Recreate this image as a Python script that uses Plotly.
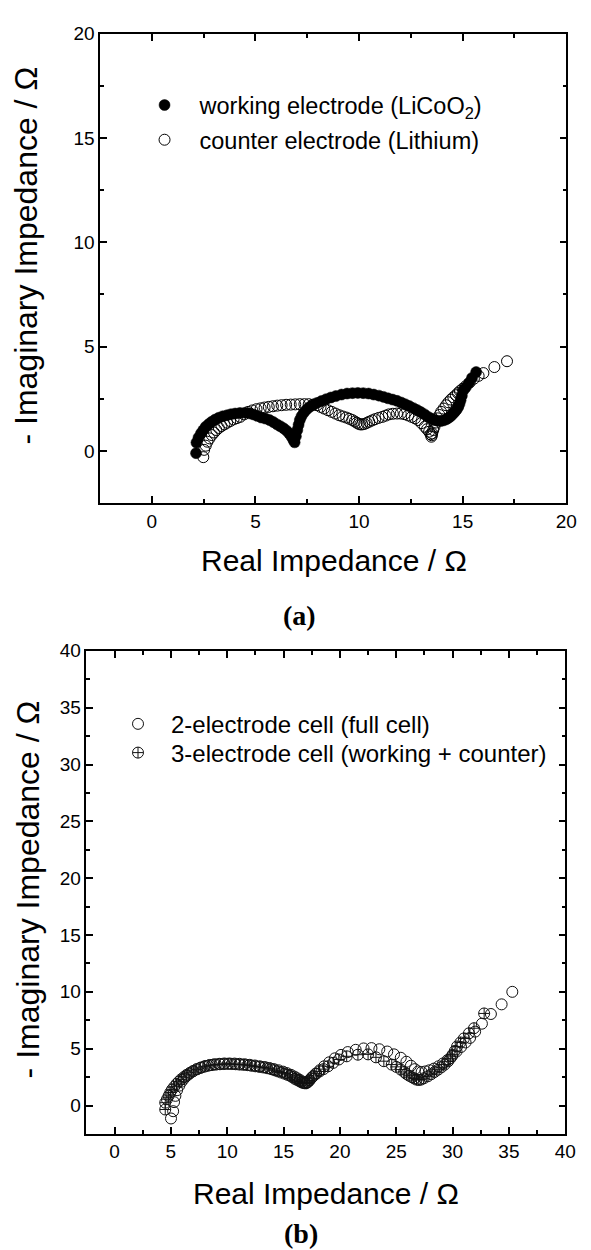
import plotly.graph_objects as go

W, H = 591, 1250

# ---------------- data : panel (a) ----------------
we_x = [2.13, 2.15, 2.25, 2.37, 2.48, 2.6, 2.75, 2.89, 3.05, 3.23,
        3.42, 3.63, 3.82, 4.02, 4.25, 4.5, 4.7, 4.89, 5.08, 5.28,
        5.48, 5.68, 5.86, 6.04, 6.2, 6.36, 6.5, 6.62, 6.74, 6.83,
        6.89, 6.95, 7.02, 7.08, 7.14, 7.22, 7.33, 7.46, 7.62, 7.78,
        7.97, 8.18, 8.41, 8.64, 8.88, 9.15, 9.42, 9.68, 9.94, 10.2,
        10.46, 10.71, 10.96, 11.18, 11.4, 11.62, 11.83, 12.03, 12.22, 12.42,
        12.62, 12.8, 12.98, 13.16, 13.33, 13.5, 13.64, 13.78, 13.93, 14.07,
        14.2, 14.32, 14.43, 14.53, 14.62, 14.71, 14.79, 14.85, 14.9, 14.96,
        15.03, 15.15, 15.3, 15.45, 15.65]
we_y = [-0.11, 0.4, 0.64, 0.84, 1.0, 1.16, 1.29, 1.4, 1.5, 1.59,
        1.66, 1.71, 1.76, 1.79, 1.82, 1.83, 1.8, 1.75, 1.68, 1.6,
        1.55, 1.48, 1.38, 1.27, 1.18, 1.08, 0.97, 0.84, 0.68, 0.52,
        0.41, 0.7, 1.0, 1.25, 1.48, 1.66, 1.83, 1.98, 2.11, 2.21,
        2.3, 2.39, 2.48, 2.56, 2.63, 2.7, 2.75, 2.77, 2.78, 2.77,
        2.75, 2.7, 2.65, 2.59, 2.52, 2.46, 2.4, 2.32, 2.24, 2.15,
        2.05, 1.96, 1.86, 1.75, 1.63, 1.55, 1.48, 1.45, 1.43, 1.46,
        1.51, 1.58, 1.67, 1.77, 1.87, 1.98, 2.11, 2.27, 2.43, 2.65,
        2.9, 3.05, 3.25, 3.5, 3.78]

ce_x = [2.48, 2.52, 2.6, 2.68, 2.78, 2.89, 3.0, 3.11, 3.23, 3.36,
        3.5, 3.63, 3.78, 3.94, 4.1, 4.26, 4.45, 4.65, 4.85, 5.05,
        5.25, 5.44, 5.64, 5.84, 6.05, 6.26, 6.48, 6.7, 6.92, 7.14,
        7.36, 7.57, 7.78, 7.97, 8.14, 8.31, 8.5, 8.68, 8.86, 9.04,
        9.21, 9.38, 9.53, 9.67, 9.79, 9.89, 9.98, 10.06, 10.15, 10.25,
        10.37, 10.49, 10.63, 10.77, 10.94, 11.12, 11.28, 11.44, 11.63, 11.83,
        12.01, 12.19, 12.37, 12.54, 12.7, 12.85, 13.01, 13.17, 13.28, 13.38,
        13.45, 13.49, 13.51, 13.53, 13.58, 13.64, 13.72, 13.8, 13.88, 13.96,
        14.08, 14.2, 14.31, 14.43, 14.55, 14.67, 14.77, 14.87, 15.0, 15.14,
        15.34, 15.54, 15.77, 16.0, 16.53, 17.14]
ce_y = [-0.3, 0.05, 0.25, 0.44, 0.6, 0.76, 0.88, 1.0, 1.1, 1.19,
        1.27, 1.35, 1.43, 1.51, 1.57, 1.63, 1.75, 1.87, 1.94, 2.0,
        2.04, 2.08, 2.11, 2.14, 2.17, 2.19, 2.21, 2.22, 2.23, 2.24,
        2.24, 2.24, 2.22, 2.19, 2.11, 2.03, 1.95, 1.87, 1.79, 1.71,
        1.65, 1.6, 1.54, 1.48, 1.41, 1.35, 1.3, 1.27, 1.27, 1.29,
        1.34, 1.4, 1.46, 1.52, 1.58, 1.63, 1.69, 1.75, 1.78, 1.79,
        1.79, 1.76, 1.7, 1.63, 1.56, 1.48, 1.33, 1.16, 1.04, 0.92,
        0.8, 0.68, 0.75, 0.84, 1.0, 1.16, 1.36, 1.56, 1.72, 1.87,
        2.03, 2.19, 2.33, 2.46, 2.57, 2.67, 2.77, 2.87, 2.98, 3.1,
        3.28, 3.46, 3.6, 3.73, 4.02, 4.3]

# ---------------- data : panel (b) ----------------
two_x = [5.01, 5.2, 5.28, 5.4, 5.55, 5.75, 5.95, 6.15, 6.4, 6.65,
         6.95, 7.3, 7.68, 8.05, 8.45, 8.85, 9.3, 9.75, 10.2, 10.65,
         11.1, 11.55, 12.0, 12.45, 12.9, 13.35, 13.75, 14.15, 14.55, 14.95,
         15.3, 15.65, 15.95, 16.2, 16.45, 16.65, 16.8, 16.95, 17.1, 17.3,
         17.55, 17.85, 18.2, 18.6, 19.05, 19.55, 20.1, 20.7, 21.4, 22.1,
         22.8, 23.5, 24.2, 24.8, 25.4, 25.9, 26.3, 26.65, 26.95, 27.25,
         27.6, 27.95, 28.35, 28.75, 29.15, 29.55, 29.95, 30.35, 30.75, 31.15,
         31.55, 32.0, 32.6, 33.4, 34.35, 35.3]
two_y = [-1.14, -0.5, 0.3, 0.85, 1.35, 1.75, 2.1, 2.35, 2.6, 2.8,
         3.0, 3.2, 3.35, 3.48, 3.57, 3.63, 3.67, 3.7, 3.7, 3.69,
         3.67, 3.63, 3.58, 3.52, 3.45, 3.38, 3.3, 3.2, 3.1, 2.98,
         2.85, 2.7, 2.55, 2.4, 2.25, 2.12, 2.02, 1.98, 2.05, 2.25,
         2.5, 2.8, 3.1, 3.45, 3.8, 4.15, 4.45, 4.7, 4.9, 5.02,
         5.05, 4.95, 4.75, 4.5, 4.2, 3.85, 3.5, 3.2, 3.0, 2.95,
         3.0, 3.1, 3.25, 3.45, 3.7, 4.0, 4.35, 4.75, 5.15, 5.55,
         5.95, 6.5, 7.2, 8.05, 8.9, 10.0]

three_x = [4.5, 4.5, 4.65, 4.8, 4.95, 5.1, 5.3, 5.5, 5.7, 5.9,
           6.15, 6.4, 6.7, 7.0, 7.3, 7.6, 7.95, 8.3, 8.65, 9.0,
           9.35, 9.7, 10.05, 10.4, 10.75, 11.1, 11.45, 11.8, 12.15, 12.5,
           12.85, 13.2, 13.55, 13.9, 14.2, 14.5, 14.8, 15.1, 15.35, 15.6,
           15.8, 16.0, 16.2, 16.4, 16.55, 16.7, 16.85, 17.0, 17.15, 17.3,
           17.45, 17.65, 17.9, 18.2, 18.55, 18.95, 19.4, 19.9, 20.6, 21.6,
           22.5, 23.2, 23.9, 24.6, 25.0, 25.4, 25.7, 25.9, 26.15, 26.4,
           26.6, 26.8, 27.0, 27.2, 27.45, 27.8, 28.1, 28.4, 28.7, 29.0,
           29.3, 29.6, 29.8, 30.0, 30.2, 30.4, 30.7, 31.0, 31.45, 31.9,
           32.8]
three_y = [-0.35, 0.25, 0.55, 0.85, 1.15, 1.4, 1.65, 1.9, 2.1, 2.3,
           2.5, 2.7, 2.88, 3.05, 3.18, 3.3, 3.41, 3.5, 3.56, 3.6,
           3.63, 3.65, 3.66, 3.65, 3.63, 3.6, 3.58, 3.55, 3.5, 3.45,
           3.4, 3.35, 3.28, 3.2, 3.1, 3.0, 2.9, 2.8, 2.7, 2.6,
           2.48, 2.35, 2.25, 2.15, 2.07, 2.0, 1.96, 1.95, 2.05, 2.2,
           2.4, 2.6, 2.8, 3.0, 3.2, 3.45, 3.75, 4.05, 4.33, 4.47,
           4.5, 4.24, 3.9, 3.6, 3.4, 3.16, 2.95, 2.78, 2.62, 2.49,
           2.38, 2.28, 2.25, 2.28, 2.4, 2.57, 2.75, 2.95, 3.15, 3.36,
           3.6, 3.89, 4.15, 4.47, 4.8, 5.2, 5.55, 5.9, 6.35, 6.8,
           8.1]

names = ["working electrode (LiCoO<sub>2</sub>)",
         "counter electrode (Lithium)",
         "2-electrode cell (full cell)",
         "3-electrode cell (working + counter)"]
x_title = "Real Impedance / \u03a9"
y_title = "- Imaginary Impedance / \u03a9"
captions = ["<b>(a)</b>", "<b>(b)</b>"]

FONT = "Liberation Sans, Arial, sans-serif"

def px_x(p):
    return p / W

def px_y(p):
    return 1 - p / H

fig = go.Figure()

# panel (a)
fig.add_trace(go.Scatter(x=ce_x, y=ce_y, mode="markers", name=names[1],
                         marker=dict(symbol="circle-open", size=11, color="black",
                                     line=dict(width=1, color="black")),
                         xaxis="x", yaxis="y", legend="legend2"))
fig.add_trace(go.Scatter(x=we_x, y=we_y, mode="markers", name=names[0],
                         marker=dict(symbol="circle", size=11, color="black",
                                     line=dict(width=0.5, color="black")),
                         xaxis="x", yaxis="y", legend="legend"))
# panel (b)
fig.add_trace(go.Scatter(x=two_x, y=two_y, mode="markers", name=names[2],
                         marker=dict(symbol="circle-open", size=11, color="#111",
                                     line=dict(width=1)),
                         xaxis="x2", yaxis="y2", legend="legend3"))
fig.add_trace(go.Scatter(x=three_x, y=three_y, mode="markers", name=names[3],
                         marker=dict(symbol="circle-cross-open", size=11, color="#111",
                                     line=dict(width=1)),
                         xaxis="x2", yaxis="y2", legend="legend4"))

def axis(domain, rng, anchor):
    return dict(domain=domain, range=rng, anchor=anchor, dtick=5, tick0=0,
                ticks="inside", ticklen=7, tickwidth=1.5, tickcolor="black",
                showline=True, linewidth=1.5, linecolor="black", mirror="allticks",
                showgrid=False, zeroline=False,
                tickfont=dict(family=FONT, size=19, color="black"),
                minor=dict(dtick=2.5, tick0=0, ticks="inside", ticklen=4,
                           tickwidth=1.5, tickcolor="black", showgrid=False))

ax_a = axis([px_x(102), px_x(577)], [-2.5, 20], "y")
ay_a = axis([px_y(497), px_y(24)], [-2.5, 20], "x")
ax_b = axis([px_x(88), px_x(576)], [-2.5, 40], "y2")
ay_b = axis([px_y(1133), px_y(646)], [-2.5, 40], "x2")

def leg(xp, yp, size, iw):
    return dict(x=px_x(xp), y=px_y(yp), xanchor="left", yanchor="middle",
                bgcolor="rgba(0,0,0,0)", borderwidth=0, itemwidth=iw,
                font=dict(family=FONT, size=size, color="black"))

annotations = [
    dict(text=x_title, x=px_x(340), y=px_y(555), xref="paper", yref="paper",
         showarrow=False, xanchor="center", yanchor="middle",
         font=dict(family=FONT, size=30, color="black")),
    dict(text=x_title, x=px_x(332), y=px_y(1193), xref="paper", yref="paper",
         showarrow=False, xanchor="center", yanchor="middle",
         font=dict(family=FONT, size=30, color="black")),
    dict(text=y_title, x=px_x(26), y=px_y(248), xref="paper", yref="paper",
         showarrow=False, xanchor="center", yanchor="middle", textangle=-90,
         font=dict(family=FONT, size=32, color="black")),
    dict(text=y_title, x=px_x(28), y=px_y(886), xref="paper", yref="paper",
         showarrow=False, xanchor="center", yanchor="middle", textangle=-90,
         font=dict(family=FONT, size=32, color="black")),
    dict(text=captions[0], x=px_x(305), y=px_y(610), xref="paper", yref="paper",
         showarrow=False, xanchor="center", yanchor="middle",
         font=dict(family="Liberation Serif, Times New Roman, serif", size=28, color="black")),
    dict(text=captions[1], x=px_x(307), y=px_y(1233), xref="paper", yref="paper",
         showarrow=False, xanchor="center", yanchor="middle",
         font=dict(family="Liberation Serif, Times New Roman, serif", size=28, color="black")),
]

fig.update_layout(
    width=W, height=H, margin=dict(l=0, r=0, t=0, b=0),
    paper_bgcolor="white", plot_bgcolor="white",
    xaxis=ax_a, yaxis=ay_a, xaxis2=ax_b, yaxis2=ay_b,
    showlegend=True,
    legend=leg(132, 96, 23.5, 60), legend2=leg(132, 131, 23.5, 60),
    legend3=leg(107, 720, 24, 56), legend4=leg(107, 749, 24, 56),
    annotations=annotations,
)

fig.write_html("out.html")
